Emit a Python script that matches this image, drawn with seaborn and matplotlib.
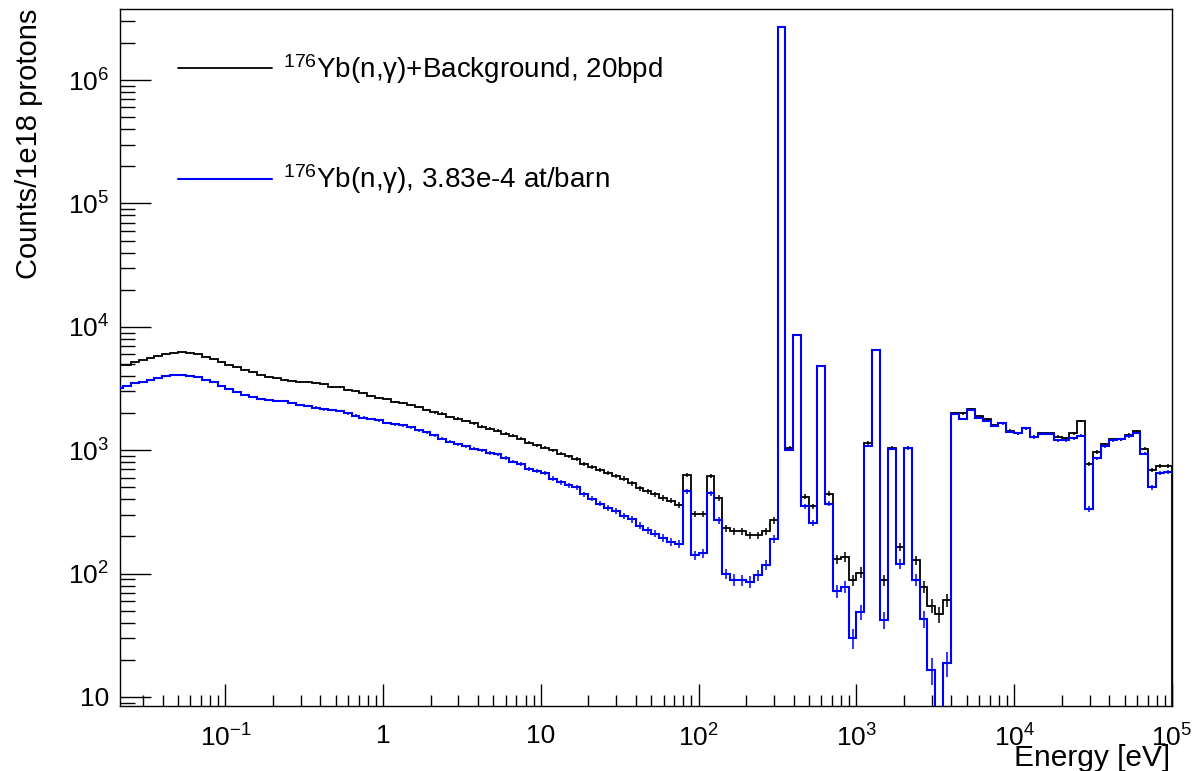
import numpy as np
import pandas as pd
import matplotlib
matplotlib.use("Agg")
import matplotlib.pyplot as plt
from matplotlib import ticker
from matplotlib.lines import Line2D
import seaborn as sns

# binning: 20 bins per decade, edges at 10^(k/20)
bpd = 20
k_first, k_last = -34, 100

# 176Yb(n,g) + background (black), counts per bin
bkg_thermal = [4900, 4950, 5150, 5360, 5550, 5800, 6050, 6150, 6200, 6150,
               6000, 5750, 5450, 5200, 4950, 4700, 4500, 4300, 4100, 3900,
               3820, 3720, 3660, 3600, 3580, 3520, 3420, 3250, 3230, 3060,
               3000, 2900, 2740, 2640, 2590, 2460, 2420, 2330, 2230, 2110,
               2030, 1980, 1860, 1800, 1720, 1650, 1550, 1500, 1440, 1360,
               1310, 1240, 1150, 1100, 1050, 1000, 940, 890, 850, 780,
               730, 690, 650, 620, 590, 540, 490, 465, 440, 410,
               390, 360]
bkg_resonance = [630, 306, 306, 620, 410, 233, 221, 221, 205, 205, 221, 270,
                 2.7e6, 1050, 8600, 420, 350, 4850, 445, 131, 137, 88, 102,
                 1150, 6450, 88, 1050, 165, 1050, 128, 78, 55, 47, 61]
bkg_fast = [1990, 1990, 2160, 1880, 1790, 1600, 1660, 1440, 1370, 1510,
            1290, 1370, 1370, 1290, 1250, 1370, 1720, 770, 970, 1120,
            1230, 1230, 1340, 1420, 1030, 690, 750, 750]

# 176Yb(n,g) only (blue)
sig_thermal = [3200, 3330, 3490, 3590, 3730, 3870, 3980, 4050, 4100, 4010,
               3910, 3730, 3560, 3300, 3120, 2950, 2810, 2710, 2610, 2540,
               2510, 2490, 2420, 2320, 2280, 2220, 2140, 2110, 2070, 1990,
               1910, 1840, 1790, 1750, 1660, 1620, 1590, 1530, 1450, 1400,
               1320, 1240, 1170, 1120, 1080, 1030, 1000, 950, 925, 870,
               810, 770, 710, 675, 650, 590, 550, 520, 500, 440,
               405, 370, 340, 320, 295, 275, 245, 224, 211, 194,
               180, 175]
sig_resonance = [463, 142, 146, 450, 270, 100, 89, 88, 86, 97, 117, 192,
                 2.7e6, 1010, 8600, 350, 257, 4850, 370, 72, 78, 30, 49,
                 1090, 6450, 42, 1030, 120, 1040, 89, 43, 16.5, 0, 19]
sig_fast = [1960, 1790, 2110, 1840, 1720, 1570, 1650, 1410, 1370, 1510,
            1270, 1360, 1360, 1200, 1200, 1250, 1310, 335, 860, 1080,
            1200, 1230, 1300, 1380, 940, 500, 650, 670]

labels = [r"$^{176}$Yb(n,γ)+Background, 20bpd",
          r"$^{176}$Yb(n,γ), 3.83e-4 at/barn"]

# decade ticks shown on each axis
x_decades = [1e-1, 1, 10, 1e2, 1e3, 1e4, 1e5]
y_decades = [10, 1e2, 1e3, 1e4, 1e5, 1e6]

edges = 10.0 ** (np.arange(k_first, k_last + 1) / bpd)
df = pd.DataFrame({
    "E": 0.5 * (edges[:-1] + edges[1:]),
    "bkg": bkg_thermal + bkg_resonance + bkg_fast,
    "sig": sig_thermal + sig_resonance + sig_fast,
})

sns.set_theme(style="white")
plt.rcParams['font.family'] = ['Liberation Sans', 'DejaVu Sans']
plt.rcParams['mathtext.fontset'] = 'custom'
plt.rcParams['mathtext.rm'] = 'Liberation Sans'
plt.rcParams['mathtext.it'] = 'Liberation Sans:italic'
plt.rcParams['mathtext.default'] = 'regular'
plt.rcParams['text.color'] = 'black'
plt.rcParams['axes.labelcolor'] = 'black'
plt.rcParams['xtick.color'] = 'black'
plt.rcParams['ytick.color'] = 'black'

fig = plt.figure(figsize=(11.94, 7.71), dpi=100)
ax = fig.add_axes([0.1005, 0.0843, 0.8811, 0.904])
ax.set_xscale("log")
ax.set_yscale("log")

floor = 1e-3
for col, color, lw in [("bkg", "black", 1.3), ("sig", "#0000ff", 1.5)]:
    v = df[col].to_numpy(float)
    ax.stairs(np.where(v > 0, v, floor), edges, baseline=floor,
              color=color, lw=lw, zorder=3)
    m = v > 0
    ax.errorbar(df["E"][m], v[m], yerr=np.sqrt(v[m]), fmt="none",
                ecolor=color, elinewidth=1.1, capsize=0, zorder=3)

ax.set_xlim(10 ** -1.668, 1e5)
ax.set_ylim(8.45, 3.77e6)

def pow_fmt(x, pos):
    e = int(round(np.log10(x)))
    if e == 0:
        return "1"
    if e == 1:
        return "10"
    return r"$10^{%d}$" % e

for axis, dec in ((ax.xaxis, x_decades), (ax.yaxis, y_decades)):
    axis.set_major_locator(ticker.FixedLocator(dec))
    axis.set_minor_locator(ticker.LogLocator(base=10, subs=np.arange(2, 10), numticks=20))
    axis.set_major_formatter(ticker.FuncFormatter(pow_fmt))
    axis.set_minor_formatter(ticker.NullFormatter())

ax.tick_params(axis="x", which="major", direction="in", length=15.8, width=1.0,
               pad=13, labelsize=19, bottom=True, top=False, colors="black")
ax.tick_params(axis="x", which="minor", direction="in", length=7.9, width=1.0,
               bottom=True, top=False, colors="black")
ax.tick_params(axis="y", which="major", direction="in", length=22, width=1.0,
               pad=8, labelsize=19, left=True, right=False, colors="black")
ax.tick_params(axis="y", which="minor", direction="in", length=11, width=1.0,
               left=True, right=False, colors="black")

for s in ax.spines.values():
    s.set_color("black")
    s.set_linewidth(1.0)

ax.set_xlabel("Energy [eV]", fontsize=21.5, loc="right")
ax.set_ylabel("Counts/1e18 protons", fontsize=21, loc="top")
ax.xaxis.set_label_coords(0.998, -0.054)
ax.yaxis.set_label_coords(-0.073, 1.0)

handles = [Line2D([], [], color="black", lw=1.3), Line2D([], [], color="#0000ff", lw=1.5)]
ax.legend(handles, labels, loc="upper left", bbox_to_anchor=(0.055, 0.938),
          frameon=False, fontsize=20, handlelength=3.4, handletextpad=0.4,
          labelspacing=2.75, borderpad=0, borderaxespad=0)

fig.savefig("out.png", dpi=100)
